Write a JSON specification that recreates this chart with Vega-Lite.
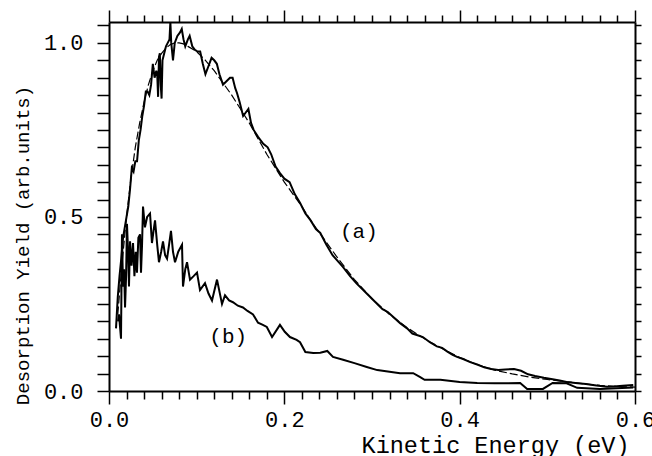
{
  "$schema": "https://vega.github.io/schema/vega-lite/v6.json",
  "width": 526,
  "height": 369,
  "autosize": {"type": "none"},
  "padding": {"left": 109, "top": 22, "right": 17, "bottom": 65},
  "background": "white",
  "config": {"view": {"stroke": null}, "font": "Liberation Mono"},
  "datasets": {
    "a": [
      {"x":0.008,"y":0.18},{"x":0.010,"y":0.27},{"x":0.012,"y":0.33},{"x":0.014,"y":0.38},{"x":0.016,"y":0.44},{"x":0.018,"y":0.47},{"x":0.020,"y":0.50},{"x":0.022,"y":0.53},{"x":0.024,"y":0.58},{"x":0.026,"y":0.64},{"x":0.028,"y":0.63},{"x":0.030,"y":0.66},{"x":0.032,"y":0.66},{"x":0.034,"y":0.72},{"x":0.036,"y":0.75},{"x":0.038,"y":0.79},{"x":0.040,"y":0.82},{"x":0.042,"y":0.86},{"x":0.044,"y":0.86},{"x":0.046,"y":0.85},{"x":0.048,"y":0.88},{"x":0.050,"y":0.94},{"x":0.052,"y":0.90},{"x":0.054,"y":0.92},{"x":0.055,"y":0.91},{"x":0.056,"y":0.845},{"x":0.057,"y":0.96},{"x":0.058,"y":0.97},{"x":0.059,"y":0.88},{"x":0.060,"y":0.84},{"x":0.061,"y":0.95},{"x":0.063,"y":0.97},{"x":0.065,"y":0.99},{"x":0.067,"y":1.00},{"x":0.069,"y":1.01},{"x":0.070,"y":1.06},{"x":0.071,"y":1.0},{"x":0.073,"y":0.95},{"x":0.075,"y":1.0},{"x":0.078,"y":1.02},{"x":0.081,"y":1.03},{"x":0.083,"y":1.04},{"x":0.085,"y":1.01},{"x":0.087,"y":0.99},{"x":0.090,"y":1.01},{"x":0.092,"y":1.02},{"x":0.095,"y":0.99},{"x":0.098,"y":0.98},{"x":0.101,"y":0.975},{"x":0.104,"y":0.975},{"x":0.107,"y":0.94},{"x":0.110,"y":0.91},{"x":0.113,"y":0.93},{"x":0.117,"y":0.957},{"x":0.120,"y":0.95},{"x":0.123,"y":0.94},{"x":0.126,"y":0.91},{"x":0.130,"y":0.88},{"x":0.134,"y":0.89},{"x":0.138,"y":0.90},{"x":0.141,"y":0.90},{"x":0.144,"y":0.87},{"x":0.146,"y":0.856},{"x":0.149,"y":0.83},{"x":0.153,"y":0.79},{"x":0.156,"y":0.80},{"x":0.159,"y":0.81},{"x":0.162,"y":0.77},{"x":0.165,"y":0.75},{"x":0.170,"y":0.73},{"x":0.176,"y":0.71},{"x":0.181,"y":0.70},{"x":0.185,"y":0.68},{"x":0.190,"y":0.645},{"x":0.195,"y":0.626},{"x":0.200,"y":0.61},{"x":0.206,"y":0.60},{"x":0.212,"y":0.565},{"x":0.218,"y":0.54},{"x":0.224,"y":0.51},{"x":0.230,"y":0.49},{"x":0.236,"y":0.465},{"x":0.241,"y":0.454},{"x":0.248,"y":0.42},{"x":0.255,"y":0.39},{"x":0.262,"y":0.37},{"x":0.267,"y":0.356},{"x":0.275,"y":0.33},{"x":0.282,"y":0.31},{"x":0.290,"y":0.29},{"x":0.298,"y":0.27},{"x":0.306,"y":0.25},{"x":0.312,"y":0.235},{"x":0.318,"y":0.227},{"x":0.324,"y":0.213},{"x":0.332,"y":0.195},{"x":0.340,"y":0.18},{"x":0.346,"y":0.165},{"x":0.352,"y":0.16},{"x":0.358,"y":0.155},{"x":0.366,"y":0.14},{"x":0.374,"y":0.128},{"x":0.380,"y":0.124},{"x":0.386,"y":0.113},{"x":0.392,"y":0.104},{"x":0.397,"y":0.098},{"x":0.404,"y":0.092},{"x":0.412,"y":0.083},{"x":0.420,"y":0.076},{"x":0.428,"y":0.068},{"x":0.436,"y":0.063},{"x":0.444,"y":0.060},{"x":0.452,"y":0.062},{"x":0.462,"y":0.063},{"x":0.470,"y":0.058},{"x":0.478,"y":0.048},{"x":0.486,"y":0.043},{"x":0.496,"y":0.038},{"x":0.506,"y":0.034},{"x":0.514,"y":0.030},{"x":0.522,"y":0.026},{"x":0.532,"y":0.023},{"x":0.544,"y":0.020},{"x":0.556,"y":0.016},{"x":0.568,"y":0.012},{"x":0.576,"y":0.013},{"x":0.586,"y":0.015},{"x":0.598,"y":0.017}
    ],
    "fit": [
      {"x":0.010,"y":0.22},{"x":0.015,"y":0.37},{"x":0.020,"y":0.50},{"x":0.025,"y":0.61},{"x":0.030,"y":0.70},{"x":0.035,"y":0.77},{"x":0.040,"y":0.83},{"x":0.045,"y":0.88},{"x":0.050,"y":0.92},{"x":0.055,"y":0.95},{"x":0.060,"y":0.97},{"x":0.065,"y":0.985},{"x":0.070,"y":0.995},{"x":0.075,"y":1.0},{"x":0.080,"y":1.0},{"x":0.085,"y":0.997},{"x":0.090,"y":0.99},{"x":0.100,"y":0.975},{"x":0.110,"y":0.95},{"x":0.120,"y":0.92},{"x":0.130,"y":0.885},{"x":0.140,"y":0.85},{"x":0.150,"y":0.81},{"x":0.160,"y":0.77},{"x":0.170,"y":0.725},{"x":0.180,"y":0.68},{"x":0.190,"y":0.64},{"x":0.200,"y":0.60},{"x":0.210,"y":0.565},{"x":0.220,"y":0.53},{"x":0.230,"y":0.49},{"x":0.240,"y":0.455},{"x":0.260,"y":0.385},{"x":0.280,"y":0.32},{"x":0.300,"y":0.265},{"x":0.320,"y":0.22},{"x":0.340,"y":0.182},{"x":0.360,"y":0.150},{"x":0.380,"y":0.122},{"x":0.400,"y":0.096},{"x":0.420,"y":0.076},{"x":0.440,"y":0.060},{"x":0.460,"y":0.049},{"x":0.480,"y":0.040},{"x":0.500,"y":0.033},{"x":0.520,"y":0.027},{"x":0.540,"y":0.021},{"x":0.560,"y":0.016},{"x":0.580,"y":0.013},{"x":0.600,"y":0.011}
    ],
    "b": [
      {"x":0.0103,"y":0.20},{"x":0.0114,"y":0.22},{"x":0.0137,"y":0.15},{"x":0.0148,"y":0.45},{"x":0.016,"y":0.30},{"x":0.0172,"y":0.35},{"x":0.0183,"y":0.24},{"x":0.0195,"y":0.33},{"x":0.0205,"y":0.48},{"x":0.0217,"y":0.405},{"x":0.0228,"y":0.30},{"x":0.024,"y":0.43},{"x":0.0257,"y":0.36},{"x":0.0274,"y":0.425},{"x":0.029,"y":0.33},{"x":0.0305,"y":0.40},{"x":0.0319,"y":0.34},{"x":0.0335,"y":0.44},{"x":0.0354,"y":0.45},{"x":0.0365,"y":0.34},{"x":0.0377,"y":0.42},{"x":0.0388,"y":0.53},{"x":0.041,"y":0.47},{"x":0.0435,"y":0.50},{"x":0.0468,"y":0.51},{"x":0.049,"y":0.425},{"x":0.0508,"y":0.46},{"x":0.0525,"y":0.49},{"x":0.055,"y":0.42},{"x":0.057,"y":0.37},{"x":0.0595,"y":0.40},{"x":0.0616,"y":0.43},{"x":0.064,"y":0.39},{"x":0.0662,"y":0.38},{"x":0.0685,"y":0.42},{"x":0.0707,"y":0.46},{"x":0.073,"y":0.40},{"x":0.0753,"y":0.37},{"x":0.079,"y":0.40},{"x":0.0833,"y":0.42},{"x":0.0844,"y":0.30},{"x":0.087,"y":0.35},{"x":0.089,"y":0.37},{"x":0.0924,"y":0.32},{"x":0.0965,"y":0.33},{"x":0.1004,"y":0.34},{"x":0.1038,"y":0.29},{"x":0.1095,"y":0.31},{"x":0.1135,"y":0.28},{"x":0.1175,"y":0.26},{"x":0.1232,"y":0.32},{"x":0.1289,"y":0.25},{"x":0.1323,"y":0.275},{"x":0.137,"y":0.26},{"x":0.1414,"y":0.255},{"x":0.147,"y":0.245},{"x":0.1528,"y":0.24},{"x":0.158,"y":0.23},{"x":0.1643,"y":0.22},{"x":0.170,"y":0.196},{"x":0.1755,"y":0.19},{"x":0.180,"y":0.184},{"x":0.186,"y":0.155},{"x":0.195,"y":0.19},{"x":0.2005,"y":0.17},{"x":0.2064,"y":0.155},{"x":0.214,"y":0.147},{"x":0.2179,"y":0.14},{"x":0.224,"y":0.112},{"x":0.233,"y":0.109},{"x":0.241,"y":0.11},{"x":0.249,"y":0.115},{"x":0.2555,"y":0.098},{"x":0.267,"y":0.09},{"x":0.28,"y":0.08},{"x":0.294,"y":0.069},{"x":0.306,"y":0.06},{"x":0.32,"y":0.055},{"x":0.332,"y":0.051},{"x":0.347,"y":0.051},{"x":0.355,"y":0.04},{"x":0.36,"y":0.032},{"x":0.378,"y":0.032},{"x":0.40,"y":0.026},{"x":0.42,"y":0.023},{"x":0.44,"y":0.022},{"x":0.469,"y":0.023},{"x":0.477,"y":0.006},{"x":0.495,"y":0.006},{"x":0.506,"y":0.023},{"x":0.522,"y":0.022},{"x":0.534,"y":0.009},{"x":0.56,"y":0.006},{"x":0.598,"y":0.01}
    ],
    "labels": [
      {"x":0.285,"y":0.457,"t":"(a)"},
      {"x":0.136,"y":0.155,"t":"(b)"}
    ]
  },
  "resolve": {"axis": {"x": "independent", "y": "independent"}},
  "layer": [
    {
      "data": {"name": "a"},
      "mark": {"type": "line", "color": "black", "strokeWidth": 2, "clip": true},
      "encoding": {
        "x": {"field": "x", "type": "quantitative",
          "scale": {"domain": [0, 0.6], "nice": false, "zero": false},
          "axis": {
            "orient": "bottom",
            "values": [0,0.02,0.04,0.06,0.08,0.1,0.12,0.14,0.16,0.18,0.2,0.22,0.24,0.26,0.28,0.3,0.32,0.34,0.36,0.38,0.4,0.42,0.44,0.46,0.48,0.5,0.52,0.54,0.56,0.58,0.6],
            "labelExpr": "indexof([0,0.2,0.4,0.6], datum.value) >= 0 ? format(datum.value, '.1f') : ''",
            "tickSize": {"condition": {"test": "indexof([0,0.2,0.4,0.6], datum.value) >= 0", "value": 13}, "value": 8},
            "tickColor": "black", "tickWidth": 1.5,
            "domainColor": "black", "domainWidth": 2,
            "grid": false,
            "labelFont": "Liberation Mono", "labelFontSize": 22, "labelColor": "black",
            "labelFlush": false, "labelOverlap": false, "labelBound": false,
            "labelBaseline": "alphabetic", "labelPadding": 22,
            "title": "Kinetic Energy (eV)",
            "titleFont": "Liberation Mono", "titleFontSize": 23.5, "titleFontWeight": "normal", "titleColor": "black",
            "titleAnchor": null, "titleAlign": "right", "titleBaseline": "alphabetic",
            "titleX": 520, "titleY": 61
          }
        },
        "y": {"field": "y", "type": "quantitative",
          "scale": {"domain": [0, 1.06], "nice": false, "zero": false},
          "axis": {
            "orient": "left",
            "values": [0,0.05,0.1,0.15,0.2,0.25,0.3,0.35,0.4,0.45,0.5,0.55,0.6,0.65,0.7,0.75,0.8,0.85,0.9,0.95,1,1.05],
            "labelExpr": "indexof([0,0.5,1], datum.value) >= 0 ? format(datum.value, '.1f') : ''",
            "tickSize": 12, "tickColor": "black", "tickWidth": 1.5,
            "domainColor": "black", "domainWidth": 2,
            "grid": false,
            "labelFont": "Liberation Mono", "labelFontSize": 22, "labelColor": "black",
            "labelFlush": false, "labelOverlap": false, "labelBound": false,
            "labelPadding": 14, "labelBaseline": "middle",
            "title": "Desorption Yield (arb.units)",
            "titleFont": "Liberation Mono", "titleFontSize": 19, "titleFontWeight": "normal", "titleColor": "black",
            "titleAnchor": null, "titleAngle": -90, "titleAlign": "center", "titleBaseline": "alphabetic",
            "titleX": -81, "titleY": 223
          }
        }
      }
    },
    {
      "data": {"name": "fit"},
      "mark": {"type": "line", "color": "black", "strokeWidth": 1.2, "strokeDash": [8, 3], "clip": true},
      "encoding": {
        "x": {"field": "x", "type": "quantitative",
          "axis": {
            "orient": "top",
            "values": [0,0.02,0.04,0.06,0.08,0.1,0.12,0.14,0.16,0.18,0.2,0.22,0.24,0.26,0.28,0.3,0.32,0.34,0.36,0.38,0.4,0.42,0.44,0.46,0.48,0.5,0.52,0.54,0.56,0.58,0.6],
            "labels": false,
            "tickSize": {"condition": {"test": "indexof([0,0.2,0.4,0.6], datum.value) >= 0", "value": 12}, "value": 7},
            "tickColor": "black", "tickWidth": 1.5,
            "domainColor": "black", "domainWidth": 2,
            "grid": false, "title": null
          }
        },
        "y": {"field": "y", "type": "quantitative",
          "axis": {
            "orient": "right",
            "values": [0,0.05,0.1,0.15,0.2,0.25,0.3,0.35,0.4,0.45,0.5,0.55,0.6,0.65,0.7,0.75,0.8,0.85,0.9,0.95,1,1.05],
            "labels": false,
            "tickSize": 6, "tickColor": "black", "tickWidth": 1.5,
            "domainColor": "black", "domainWidth": 2,
            "grid": false, "title": null
          }
        }
      }
    },
    {
      "data": {"name": "b"},
      "mark": {"type": "line", "color": "black", "strokeWidth": 2, "clip": true},
      "encoding": {
        "x": {"field": "x", "type": "quantitative", "axis": null},
        "y": {"field": "y", "type": "quantitative", "axis": null}
      }
    },
    {
      "data": {"name": "labels"},
      "mark": {"type": "text", "font": "Liberation Mono", "fontSize": 21, "color": "black", "align": "center", "baseline": "middle"},
      "encoding": {
        "x": {"field": "x", "type": "quantitative", "axis": null},
        "y": {"field": "y", "type": "quantitative", "axis": null},
        "text": {"field": "t"}
      }
    }
  ]
}
